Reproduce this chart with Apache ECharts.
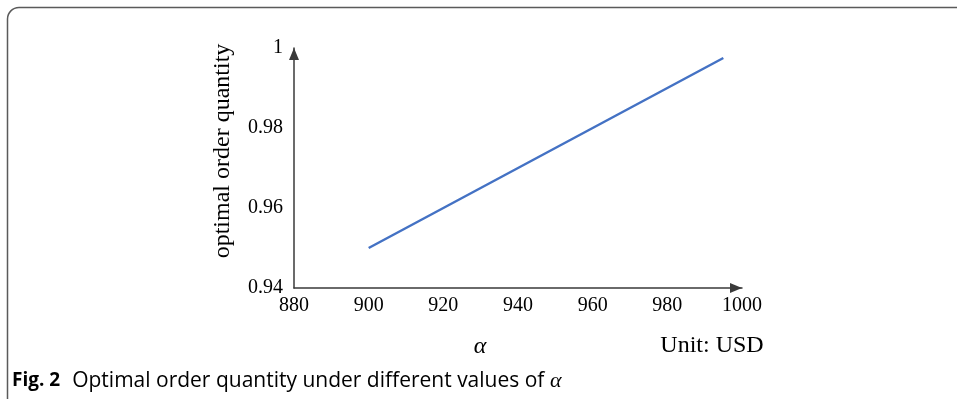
<!DOCTYPE html>
<html><head><meta charset="utf-8">
<script src="https://cdn.jsdelivr.net/npm/echarts@6/dist/echarts.min.js"></script>
<style>html,body{margin:0;padding:0;background:#fff}#c{width:957px;height:399px}</style>
</head><body><div id="c"></div>
<script>
const alphaValues = [900, 920, 940, 960, 980, 995];
const orderQuantity = [0.950, 0.960, 0.970, 0.980, 0.990, 0.9975];
const xTicks = [880, 900, 920, 940, 960, 980, 1000];
const yTicks = [0.94, 0.96, 0.98, 1];

const chart = echarts.init(document.getElementById('c'), null, {renderer: 'canvas'});
const serif = '"Liberation Serif", "Times New Roman", serif';
const sans = '"Open Sans", "Noto Sans", sans-serif';
const frameStyle = {stroke: '#5a5a5a', lineWidth: 1.5, fill: null};
chart.setOption({
  animation: false,
  grid: {left: 294, right: 215, top: 48, bottom: 111},
  xAxis: {
    type: 'value', min: 880, max: 1000, interval: 20,
    axisLine: {show: true, symbol: ['none', 'triangle'], symbolSize: [10, 12], symbolOffset: [0, -6],
      lineStyle: {color: '#3a3a3a', width: 1.5}},
    axisTick: {show: false},
    splitLine: {show: false},
    axisLabel: {color: '#000', fontFamily: serif, fontSize: 20, margin: 8,
      formatter: v => xTicks.includes(v) ? String(v) : ''}
  },
  yAxis: {
    type: 'value', min: 0.94, max: 1, interval: 0.02,
    axisLine: {show: true, symbol: ['none', 'triangle'], symbolSize: [10, 12], symbolOffset: [0, -6],
      lineStyle: {color: '#3a3a3a', width: 1.5}},
    axisTick: {show: false},
    splitLine: {show: false},
    axisLabel: {color: '#000', fontFamily: serif, fontSize: 20, margin: 11,
      formatter: v => {
        const t = yTicks.find(y => Math.abs(y - v) < 1e-9);
        return t === undefined ? '' : String(t);
      }}
  },
  series: [{
    type: 'line',
    data: alphaValues.map((a, i) => [a, orderQuantity[i]]),
    showSymbol: false,
    lineStyle: {color: '#4472C4', width: 2.5},
    itemStyle: {color: '#4472C4'}
  }],
  graphic: [
    {type: 'line', shape: {x1: 19, y1: 7.5, x2: 957, y2: 7.5}, style: frameStyle},
    {type: 'line', shape: {x1: 7.5, y1: 19, x2: 7.5, y2: 399}, style: frameStyle},
    {type: 'arc', shape: {cx: 19, cy: 19, r: 11.5, startAngle: Math.PI, endAngle: Math.PI * 1.5}, style: frameStyle},
    {type: 'text', x: 223, y: 151, rotation: Math.PI / 2,
      style: {text: 'optimal order quantity', fill: '#000', font: '24px ' + serif,
        textAlign: 'center', textVerticalAlign: 'middle'}},
    {type: 'text', x: 480, y: 347,
      style: {text: 'α', fill: '#000', font: 'italic 24px ' + serif,
        textAlign: 'center', textVerticalAlign: 'middle'}},
    {type: 'text', x: 712, y: 346,
      style: {text: 'Unit: USD', fill: '#000', font: '24px ' + serif,
        textAlign: 'center', textVerticalAlign: 'middle'}},
    {type: 'text', x: 12, y: 381,
      style: {
        text: '{b|Fig. 2}{n|Optimal order quantity under different values of }{a|α}',
        textVerticalAlign: 'middle',
        rich: {
          b: {fontFamily: sans, fontWeight: 'bold', fontSize: 19, fill: '#000', padding: [0, 12, 0, 0]},
          n: {fontFamily: sans, fontSize: 21, fill: '#000'},
          a: {fontFamily: serif, fontStyle: 'italic', fontSize: 22, fill: '#000'}
        }
      }}
  ]
});
</script></body></html>
